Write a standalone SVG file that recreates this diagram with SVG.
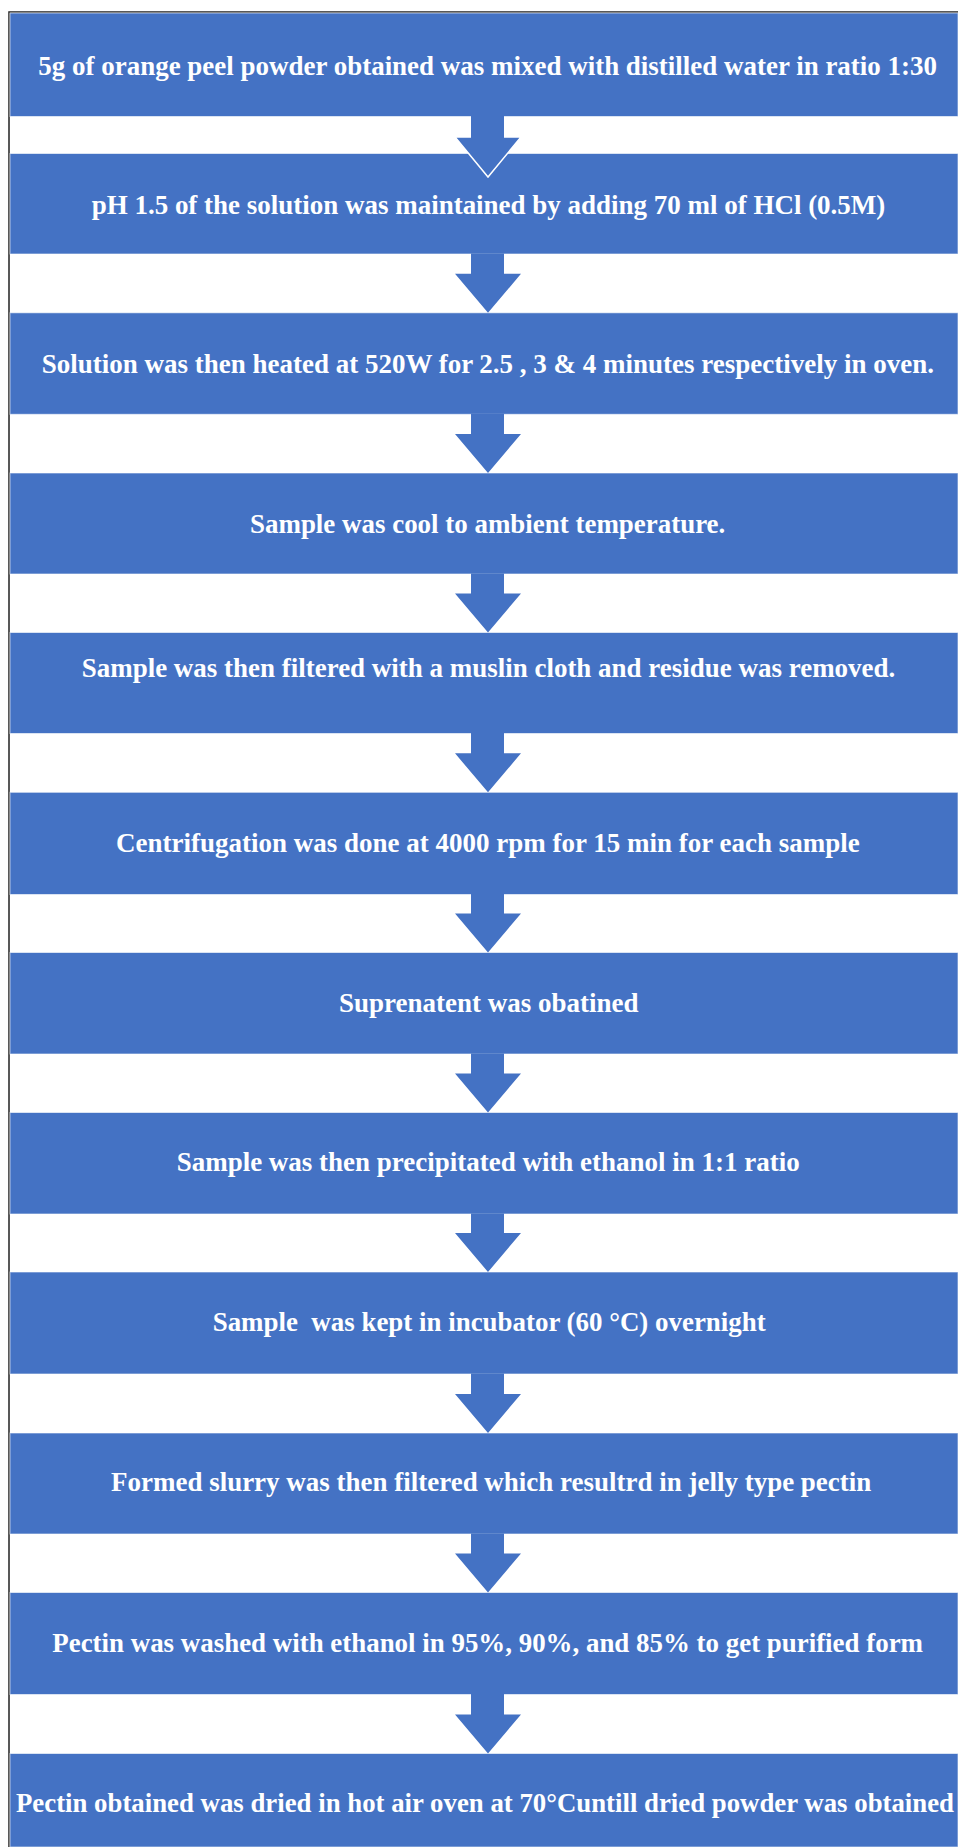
<svg xmlns="http://www.w3.org/2000/svg" width="958" height="1847" viewBox="0 0 958 1847">
<style>
.box{fill:#4472C4;stroke:#ffffff;stroke-opacity:0.6;stroke-width:1}
.lbl{font-family:"Liberation Serif","Times New Roman",serif;font-weight:bold;font-size:28px;fill:#ffffff}
.arr{fill:#4472C4;stroke:none}
.arrEdge{fill:none;stroke:#ffffff;stroke-width:1.5;stroke-linejoin:miter}
.frame{fill:none;stroke:#222222;stroke-width:1.5}
</style>
<rect width="958" height="1847" fill="#ffffff"/>
<path class="frame" d="M9,1847 L9,12 L958,12"/>
<g id="nodes">
<g id="n1"><rect class="box" x="10" y="13" width="948" height="103.5"/><text class="lbl" x="38.3" y="75" textLength="898.7" lengthAdjust="spacingAndGlyphs">5g of orange peel powder obtained was mixed with distilled water in ratio 1:30</text></g>
<g id="n2"><rect class="box" x="10" y="153.5" width="948" height="100.5"/><text class="lbl" x="91.7" y="214" textLength="793.6" lengthAdjust="spacingAndGlyphs">pH 1.5 of the solution was maintained by adding 70 ml of HCl (0.5M)</text></g>
<g id="n3"><rect class="box" x="10" y="312.8" width="948" height="101.5"/><text class="lbl" x="41.7" y="372.5" textLength="892.3" lengthAdjust="spacingAndGlyphs">Solution was then heated at 520W for 2.5 , 3 &amp; 4 minutes respectively in oven.</text></g>
<g id="n4"><rect class="box" x="10" y="473" width="948" height="101"/><text class="lbl" x="250" y="533" textLength="475.3" lengthAdjust="spacingAndGlyphs">Sample was cool to ambient temperature.</text></g>
<g id="n5"><rect class="box" x="10" y="632.5" width="948" height="101"/><text class="lbl" x="81.7" y="677" textLength="813.6" lengthAdjust="spacingAndGlyphs">Sample was then filtered with a muslin cloth and residue was removed.</text></g>
<g id="n6"><rect class="box" x="10" y="792.3" width="948" height="102.2"/><text class="lbl" x="116" y="852" textLength="743.7" lengthAdjust="spacingAndGlyphs">Centrifugation was done at 4000 rpm for 15 min for each sample</text></g>
<g id="n7"><rect class="box" x="10" y="952.5" width="948" height="101.5"/><text class="lbl" x="339" y="1012" textLength="299.4" lengthAdjust="spacingAndGlyphs">Suprenatent was obatined</text></g>
<g id="n8"><rect class="box" x="10" y="1112.5" width="948" height="101.5"/><text class="lbl" x="176.7" y="1171" textLength="623" lengthAdjust="spacingAndGlyphs">Sample was then precipitated with ethanol in 1:1 ratio</text></g>
<g id="n9"><rect class="box" x="10" y="1272" width="948" height="102"/><text class="lbl" x="212.7" y="1331" textLength="553" lengthAdjust="spacingAndGlyphs" xml:space="preserve">Sample  was kept in incubator (60 °C) overnight</text></g>
<g id="n10"><rect class="box" x="10" y="1433" width="948" height="101"/><text class="lbl" x="111" y="1491" textLength="760.3" lengthAdjust="spacingAndGlyphs">Formed slurry was then filtered which resultrd in jelly type pectin</text></g>
<g id="n11"><rect class="box" x="10" y="1592.5" width="948" height="102"/><text class="lbl" x="52.3" y="1652" textLength="870.7" lengthAdjust="spacingAndGlyphs">Pectin was washed with ethanol in 95%, 90%, and 85% to get purified form</text></g>
<g id="n12"><rect class="box" x="10" y="1753.5" width="948" height="93.5"/><text class="lbl" x="16" y="1812" textLength="938" lengthAdjust="spacingAndGlyphs">Pectin obtained was dried in hot air oven at 70°Cuntill dried powder was obtained</text></g>
</g>
<g id="connectors">
<polygon class="arr" points="471,116 504,116 504,137 521,137 488,177 455,137 471,137"/>
<polyline class="arrEdge" points="504,137 521,137 488,177 455,137 471,137"/>
<polygon class="arr" points="471,253.5 504,253.5 504,273.8 521,273.8 488,312.8 455,273.8 471,273.8"/>
<polygon class="arr" points="471,413.8 504,413.8 504,434 521,434 488,473 455,434 471,434"/>
<polygon class="arr" points="471,573.5 504,573.5 504,593.5 521,593.5 488,632.5 455,593.5 471,593.5"/>
<polygon class="arr" points="471,733 504,733 504,753.3 521,753.3 488,792.3 455,753.3 471,753.3"/>
<polygon class="arr" points="471,894 504,894 504,913.5 521,913.5 488,952.5 455,913.5 471,913.5"/>
<polygon class="arr" points="471,1053.5 504,1053.5 504,1073.5 521,1073.5 488,1112.5 455,1073.5 471,1073.5"/>
<polygon class="arr" points="471,1213.5 504,1213.5 504,1233 521,1233 488,1272 455,1233 471,1233"/>
<polygon class="arr" points="471,1373.5 504,1373.5 504,1394 521,1394 488,1433 455,1394 471,1394"/>
<polygon class="arr" points="471,1533.5 504,1533.5 504,1553.5 521,1553.5 488,1592.5 455,1553.5 471,1553.5"/>
<polygon class="arr" points="471,1694 504,1694 504,1714.5 521,1714.5 488,1753.5 455,1714.5 471,1714.5"/>
</g>
</svg>
